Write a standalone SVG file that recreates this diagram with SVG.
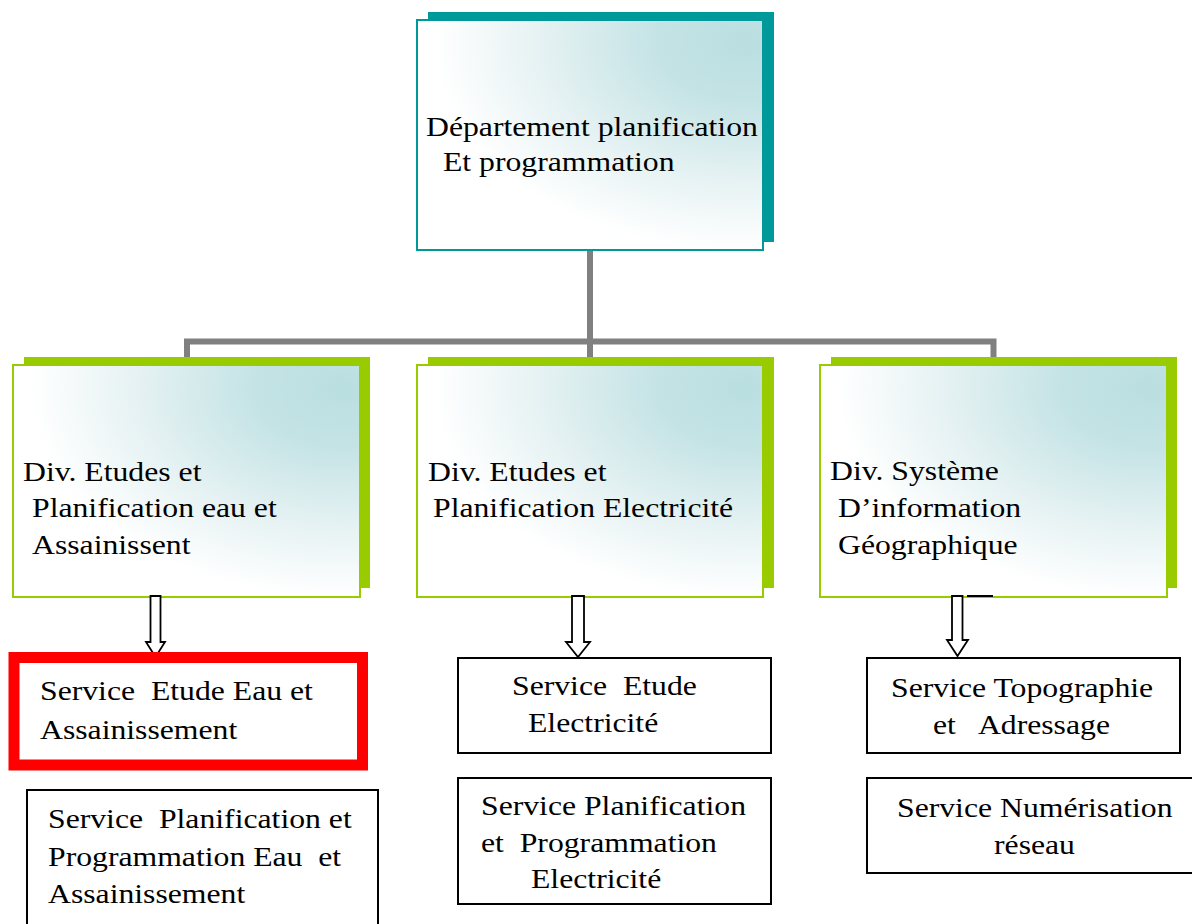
<svg xmlns="http://www.w3.org/2000/svg" width="1192" height="924" viewBox="0 0 1192 924">
  <defs>
    <radialGradient id="fill" cx="0.95" cy="0.1" r="1.0" fx="0.95" fy="0.1">
      <stop offset="0" stop-color="#BADFE1"/>
      <stop offset="0.25" stop-color="#C4E3E5"/>
      <stop offset="0.6" stop-color="#E6F2F3"/>
      <stop offset="0.9" stop-color="#FFFFFF"/>
    </radialGradient>
  </defs>
  <style>
    .t { font-family: "Liberation Serif", "Times New Roman", serif; font-size: 27px; fill: #000; white-space: pre; }
    .shT { fill: #009999; }
    .frT { fill: url(#fill); stroke: #009999; stroke-width: 2; }
    .shG { fill: #99CC00; }
    .frG { fill: url(#fill); stroke: #99CC00; stroke-width: 2; }
    .box { fill: #fff; stroke: #000; stroke-width: 2; }
    .red { fill: #fff; stroke: #FF0000; stroke-width: 11; }
    .conn { fill: none; stroke: #808080; stroke-width: 6; }
    .arr { fill: #fff; stroke: #000; stroke-width: 1.8; stroke-linejoin: miter; }
  </style>

  <g id="connectors">
    <path class="conn" d="M590,250 V357"/>
    <path class="conn" d="M187,357 V341.5 H993.5 V357"/>
  </g>

  <g id="dept">
    <rect class="shT" x="428" y="12" width="346" height="230"/>
    <rect class="frT" x="417" y="20" width="346" height="230"/>
    <text class="t" xml:space="preserve" transform="translate(426,136) scale(1.175,1)">Département planification</text>
    <text class="t" xml:space="preserve" transform="translate(443,171) scale(1.175,1)">Et programmation</text>
  </g>

  <g id="div-eau">
    <rect class="shG" x="24" y="357" width="346" height="231"/>
    <rect class="frG" x="13" y="365" width="347" height="232"/>
    <text class="t" xml:space="preserve" transform="translate(23,481) scale(1.175,1)">Div. Etudes et</text>
    <text class="t" xml:space="preserve" transform="translate(32,517) scale(1.175,1)">Planification eau et</text>
    <text class="t" xml:space="preserve" transform="translate(32,554) scale(1.175,1)">Assainissent</text>
  </g>

  <g id="div-elec">
    <rect class="shG" x="428" y="357" width="346" height="231"/>
    <rect class="frG" x="417" y="365" width="346" height="232"/>
    <text class="t" xml:space="preserve" transform="translate(428,481) scale(1.175,1)">Div. Etudes et</text>
    <text class="t" xml:space="preserve" transform="translate(433,517) scale(1.175,1)">Planification Electricité</text>
  </g>

  <g id="div-sig">
    <rect class="shG" x="831" y="357" width="346" height="231"/>
    <rect class="frG" x="820" y="365" width="347" height="232"/>
    <text class="t" xml:space="preserve" transform="translate(830,480) scale(1.175,1)">Div. Système</text>
    <text class="t" xml:space="preserve" transform="translate(838,517) scale(1.175,1)">D’information</text>
    <text class="t" xml:space="preserve" transform="translate(838,554) scale(1.175,1)">Géographique</text>
  </g>

  <g id="arrows">
    <path class="arr" d="M150.5,596 H160.5 V642 H165 L155.5,657 L146,642 H150.5 Z"/>
    <path class="arr" d="M572,596 H584 V642 H590 L578,657 L566,642 H572 Z"/>
    <path class="arr" d="M952,596 H962.5 V640 H968 L957.5,656 L947,640 H952 Z"/>
    <path d="M967,596 H993" stroke="#000" stroke-width="2"/>
  </g>

  <g id="svc-etude-eau">
    <rect class="red" x="14" y="657.5" width="348.5" height="107.5"/>
    <text class="t" xml:space="preserve" transform="translate(40,700) scale(1.175,1)">Service  Etude Eau et</text>
    <text class="t" xml:space="preserve" transform="translate(40,739) scale(1.175,1)">Assainissement</text>
  </g>

  <g id="svc-plan-eau">
    <rect class="box" x="27" y="790" width="351" height="150"/>
    <text class="t" xml:space="preserve" transform="translate(48,828) scale(1.175,1)">Service  Planification et</text>
    <text class="t" xml:space="preserve" transform="translate(48,866) scale(1.175,1)">Programmation Eau  et</text>
    <text class="t" xml:space="preserve" transform="translate(48,903) scale(1.175,1)">Assainissement</text>
  </g>

  <g id="svc-etude-elec">
    <rect class="box" x="458" y="658" width="313" height="95"/>
    <text class="t" xml:space="preserve" transform="translate(512,695) scale(1.175,1)">Service  Etude</text>
    <text class="t" xml:space="preserve" transform="translate(528,732) scale(1.175,1)">Electricité</text>
  </g>

  <g id="svc-plan-elec">
    <rect class="box" x="458" y="778" width="313" height="126"/>
    <text class="t" xml:space="preserve" transform="translate(481,815) scale(1.175,1)">Service Planification</text>
    <text class="t" xml:space="preserve" transform="translate(481,852) scale(1.175,1)">et  Programmation</text>
    <text class="t" xml:space="preserve" transform="translate(531,888) scale(1.175,1)">Electricité</text>
  </g>

  <g id="svc-topo">
    <rect class="box" x="867" y="658" width="313" height="95"/>
    <text class="t" xml:space="preserve" transform="translate(891,697) scale(1.175,1)">Service Topographie</text>
    <text class="t" xml:space="preserve" transform="translate(933,734) scale(1.175,1)">et   Adressage</text>
  </g>

  <g id="svc-num">
    <rect class="box" x="867" y="778" width="340" height="95"/>
    <text class="t" xml:space="preserve" transform="translate(897,817) scale(1.175,1)">Service Numérisation</text>
    <text class="t" xml:space="preserve" transform="translate(994,854) scale(1.175,1)">réseau</text>
  </g>
</svg>
